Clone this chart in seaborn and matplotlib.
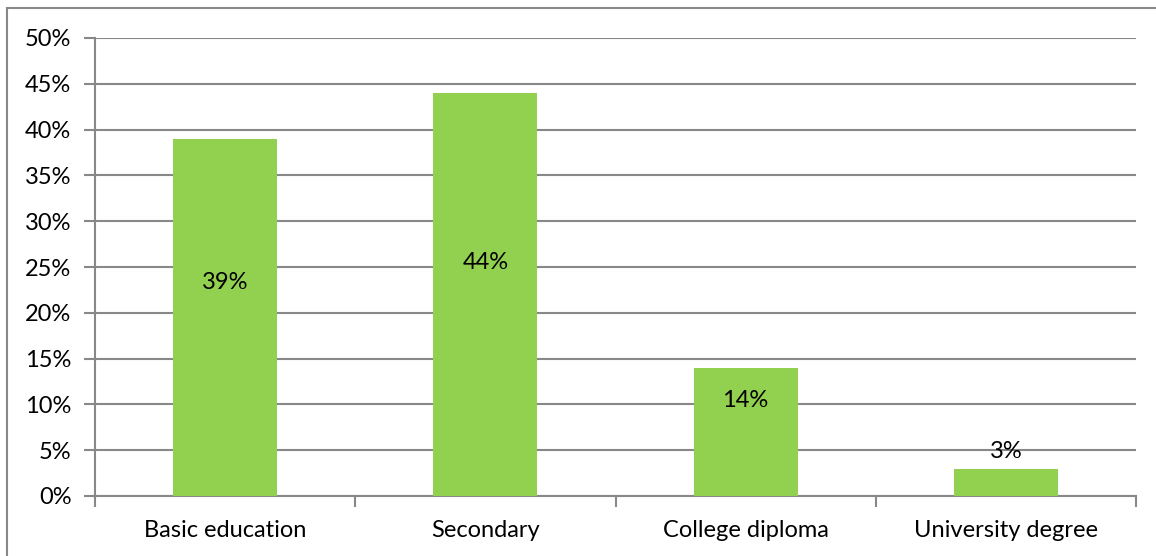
import matplotlib
matplotlib.use("Agg")
import matplotlib.pyplot as plt
import seaborn as sns
import pandas as pd
from matplotlib.patches import Rectangle
from matplotlib.ticker import FuncFormatter, MultipleLocator

categories = ["Basic education", "Secondary", "College diploma", "University degree"]
values = [39, 44, 14, 3]
value_labels = ["39%", "44%", "14%", "3%"]
label_y = [23.3, 25.5, 10.4, 4.9]

sns.set_theme(style="white")
plt.rcParams['font.family'] = ['Lato', 'DejaVu Sans']

df = pd.DataFrame({"cat": categories, "val": values})

W, H = 1156, 556
FS = 17
fig = plt.figure(figsize=(W / 100, H / 100), dpi=100)
ax = fig.add_axes([95 / W, 1 - 496 / H, (1136 - 95) / W, (496 - 38) / H])

grid_c = "#888888"
sns.barplot(data=df, x="cat", y="val", color="#92D050", width=0.4, saturation=1,
            linewidth=0, ax=ax, zorder=3)
ax.set_ylim(0, 50)
ax.set_xlim(-0.5, len(categories) - 0.5)
ax.yaxis.set_major_locator(MultipleLocator(5))
ax.yaxis.set_major_formatter(FuncFormatter(lambda v, p: f"{int(v)}%"))
ax.grid(axis="y", color=grid_c, linewidth=1.5, zorder=0)
ax.set_axisbelow(True)
ax.set_xlabel("")
ax.set_ylabel("")
for s in ["top", "right"]:
    ax.spines[s].set_visible(False)
for s in ["left", "bottom"]:
    ax.spines[s].set_color(grid_c)
    ax.spines[s].set_linewidth(1.5)

ax.tick_params(axis="y", length=8, width=1.5, color=grid_c, labelsize=FS, pad=9,
               left=True, labelcolor="black")
# x ticks at category boundaries
ax.set_xticks([i - 0.5 for i in range(len(categories) + 1)], minor=False)
ax.set_xticklabels([""] * (len(categories) + 1))
ax.set_xticks(range(len(categories)), minor=True)
ax.set_xticklabels(categories, minor=True)
ax.tick_params(axis="x", which="major", length=8, width=1.5, color=grid_c,
               bottom=True, direction="out")
ax.tick_params(axis="x", which="minor", length=0, labelsize=FS, pad=17,
               labelcolor="black")

for i, (lab, y) in enumerate(zip(value_labels, label_y)):
    ax.text(i, y, lab, ha="center", va="center", fontsize=FS, color="black", zorder=5)

fig.patches.append(Rectangle((7 / W, -0.1), 1.2, 1 - 8 / H + 0.1,
                             transform=fig.transFigure, fill=False,
                             edgecolor="#888888", linewidth=1.5))

fig.savefig("out.png", dpi=100)
